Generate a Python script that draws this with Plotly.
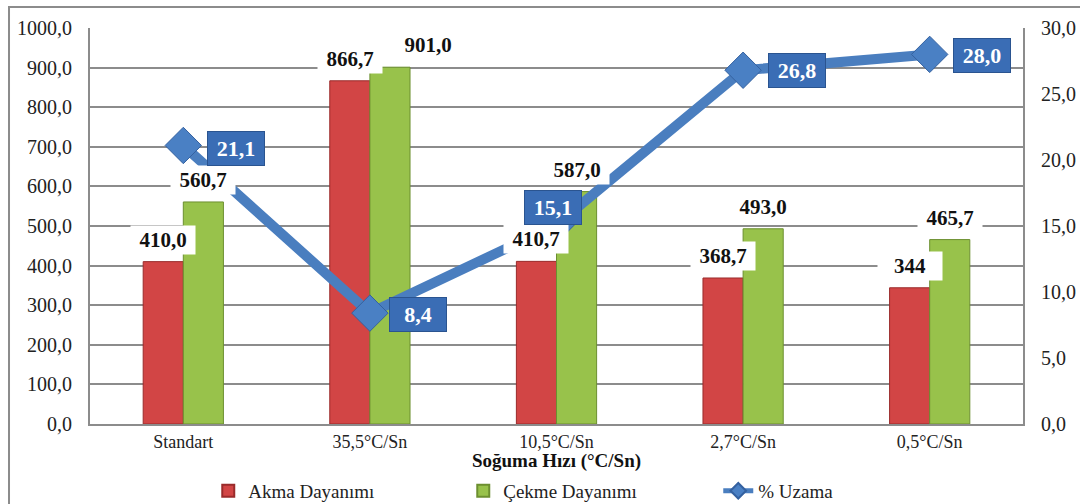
import plotly.graph_objects as go

categories = ["Standart", "35,5°C/Sn", "10,5°C/Sn", "2,7°C/Sn", "0,5°C/Sn"]
akma = [410.0, 866.7, 410.7, 368.7, 344.0]
cekme = [560.7, 901.0, 587.0, 493.0, 465.7]
uzama = [21.1, 8.4, 15.1, 26.8, 28.0]
akma_labels = ["410,0", "866,7", "410,7", "368,7", "344"]
cekme_labels = ["560,7", "901,0", "587,0", "493,0", "465,7"]
uzama_labels = ["21,1", "8,4", "15,1", "26,8", "28,0"]

# label offsets (pixels) - style only
cekme_xshift = [0, 38, 0, 0, 0]
uzama_xshift = [53, 48, -4, 54, 52]
uzama_yshift = [-3, -1, 17, 0, -1]

FONT = "Liberation Serif"
xs = list(range(len(categories)))
BG = 0.57
half = (1 - BG) / 4  # half of a single bar width

fig = go.Figure()
fig.add_trace(go.Bar(
    x=xs, y=akma, name="Akma Dayanımı", offsetgroup="a",
    marker=dict(color="#D24545", line=dict(color="#9A2B2B", width=1)),
))
fig.add_trace(go.Bar(
    x=xs, y=cekme, name="Çekme Dayanımı", offsetgroup="b",
    marker=dict(color="#98C24B", line=dict(color="#6C8F30", width=1)),
))
fig.add_trace(go.Scatter(
    x=xs, y=uzama, name="% Uzama", yaxis="y2", mode="lines+markers",
    line=dict(color="#4A7EBF", width=10),
    marker=dict(symbol="diamond", size=28, color="#4A80C4",
                line=dict(color="#3461A0", width=1)),
))

ann = []
for i in xs:
    ann.append(dict(x=i - half, y=akma[i], xref="x", yref="y", text="<b>%s</b>" % akma_labels[i],
                    showarrow=False, yshift=22, bgcolor="white", width=62, height=26,
                    font=dict(family=FONT, size=21, color="#111")))
    ann.append(dict(x=i + half, y=cekme[i], xref="x", yref="y", text="<b>%s</b>" % cekme_labels[i],
                    showarrow=False, yshift=22, xshift=cekme_xshift[i], bgcolor="white", width=62, height=26,
                    font=dict(family=FONT, size=21, color="#111")))
    ann.append(dict(x=i, y=uzama[i], xref="x", yref="y2", text="<b>%s</b>" % uzama_labels[i],
                    showarrow=False, xshift=uzama_xshift[i], yshift=uzama_yshift[i],
                    bgcolor="#3A6DB5", bordercolor="#2A5490", borderwidth=1, width=54, height=31,
                    font=dict(family=FONT, size=22, color="white")))

fig.update_layout(
    width=1080, height=504,
    margin=dict(l=90, r=57, t=28, b=80, autoexpand=False),
    paper_bgcolor="white", plot_bgcolor="white",
    separators=",.",
    barmode="group", bargap=BG, bargroupgap=0,
    font=dict(family=FONT, size=19, color="#222"),
    showlegend=True,
    legend=dict(orientation="h", x=0.547, xanchor="center", xref="container",
                y=0.026, yanchor="middle", yref="container",
                font=dict(family=FONT, size=19, color="#222"), entrywidth=210,
                itemsizing="constant", bgcolor="rgba(0,0,0,0)"),
    xaxis=dict(range=[-0.5, 4.5], tickvals=xs, ticktext=categories, showgrid=False,
               showline=True, linecolor="#8C8C8C", linewidth=2, ticks="",
               tickfont=dict(family=FONT, size=18),
               title=dict(text="<b>Soğuma Hızı (°C/Sn)</b>", standoff=10,
                          font=dict(family=FONT, size=19, color="#111")),
               zeroline=False, automargin=False),
    yaxis=dict(range=[0, 1000], dtick=100, tickformat=".1f", showgrid=True,
               gridcolor="#8C8C8C", gridwidth=1.5, showline=True, linecolor="#8C8C8C",
               linewidth=2, ticks="", ticklabelstandoff=12, zeroline=False,
               tickfont=dict(family=FONT, size=20), automargin=False),
    yaxis2=dict(range=[0, 30], dtick=5, tickformat=".1f", overlaying="y", side="right",
                showgrid=False, showline=True, linecolor="#8C8C8C", linewidth=2,
                ticks="", ticklabelstandoff=12, zeroline=False,
                tickfont=dict(family=FONT, size=20), automargin=False),
    annotations=ann,
    shapes=[dict(type="rect", xref="paper", yref="paper", x0=-0.0868, x1=1.2,
                 y0=-0.4, y1=1.053, line=dict(color="#8C8C8C", width=2),
                 fillcolor="rgba(0,0,0,0)", layer="below")],
)

fig.write_html("out.html")
